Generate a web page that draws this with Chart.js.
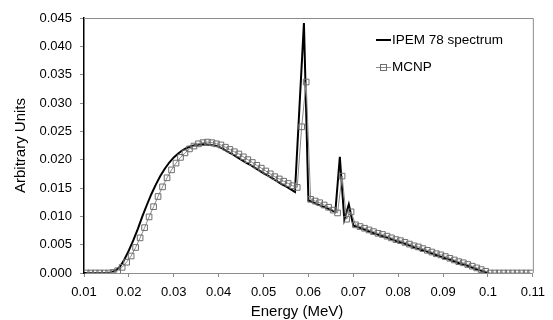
<!DOCTYPE html>
<html>
<head>
<meta charset="utf-8">
<script src="https://cdn.jsdelivr.net/npm/chart.js@4.4.0/dist/chart.umd.min.js"></script>
<style>
  html, body { margin: 0; padding: 0; background: #fff; }
  #wrap { width: 553px; height: 320px; position: relative; }
</style>
</head>
<body>
<div id="wrap"><canvas id="c" width="553" height="320"></canvas></div>
<script>
// ---- Data ----
const xTicks = [0.01, 0.02, 0.03, 0.04, 0.05, 0.06, 0.07, 0.08, 0.09, 0.10, 0.11];
const yTicks = [0.000, 0.005, 0.010, 0.015, 0.020, 0.025, 0.030, 0.035, 0.040, 0.045];

const ipemEnergy = [
  0.010, 0.011, 0.012, 0.013, 0.014, 0.015, 0.016, 0.017, 0.018, 0.019,
  0.020, 0.021, 0.022, 0.023, 0.024, 0.025, 0.026, 0.027, 0.028, 0.029,
  0.030, 0.031, 0.032, 0.033, 0.034, 0.035, 0.036, 0.037, 0.038, 0.039,
  0.040, 0.041, 0.042, 0.043, 0.044, 0.045, 0.046, 0.047, 0.048, 0.049,
  0.050, 0.051, 0.052, 0.053, 0.054, 0.055, 0.056, 0.057, 0.058, 0.059,
  0.060, 0.061, 0.062, 0.063, 0.064, 0.065, 0.066, 0.067, 0.068, 0.069,
  0.070, 0.071, 0.072, 0.073, 0.074, 0.075, 0.076, 0.077, 0.078, 0.079,
  0.080, 0.081, 0.082, 0.083, 0.084, 0.085, 0.086, 0.087, 0.088, 0.089,
  0.090, 0.091, 0.092, 0.093, 0.094, 0.095, 0.096, 0.097, 0.098, 0.099,
  0.100
];
const ipemValues = [
  0.0000, 0.0000, 0.0000, 0.0000, 0.0000, 0.0000, 0.0001, 0.0004, 0.0011, 0.0024,
  0.0040, 0.0058, 0.0078, 0.0100, 0.0120, 0.0139, 0.0156, 0.0171, 0.0184, 0.0195,
  0.0204, 0.0211, 0.0217, 0.0221, 0.0224, 0.0226, 0.0227, 0.0227, 0.0226, 0.0225,
  0.0223, 0.0219, 0.0214, 0.0210, 0.0205, 0.0200, 0.0195, 0.0191, 0.0186, 0.0181,
  0.0176, 0.0172, 0.0167, 0.0162, 0.0157, 0.0153, 0.0148, 0.0143, 0.0292, 0.0441,
  0.0128, 0.0125, 0.0121, 0.0118, 0.0115, 0.0111, 0.0108, 0.0205, 0.0094, 0.0121,
  0.0084, 0.0081, 0.0078, 0.0075, 0.0072, 0.0069, 0.0066, 0.0064, 0.0061, 0.0058,
  0.0055, 0.0053, 0.0050, 0.0047, 0.0044, 0.0041, 0.0039, 0.0036, 0.0033, 0.0030,
  0.0027, 0.0025, 0.0022, 0.0019, 0.0016, 0.0014, 0.0011, 0.0008, 0.0005, 0.0003,
  0.0000
];

const mcnpEnergy = [
  0.0105, 0.0115, 0.0125, 0.0135, 0.0145, 0.0155, 0.0165, 0.0175, 0.0185, 0.0195,
  0.0205, 0.0215, 0.0225, 0.0235, 0.0245, 0.0255, 0.0265, 0.0275, 0.0285, 0.0295,
  0.0305, 0.0315, 0.0325, 0.0335, 0.0345, 0.0355, 0.0365, 0.0375, 0.0385, 0.0395,
  0.0405, 0.0415, 0.0425, 0.0435, 0.0445, 0.0455, 0.0465, 0.0475, 0.0485, 0.0495,
  0.0505, 0.0515, 0.0525, 0.0535, 0.0545, 0.0555, 0.0565, 0.0575, 0.0585, 0.0595,
  0.0605, 0.0615, 0.0625, 0.0635, 0.0645, 0.0655, 0.0665, 0.0675, 0.0685, 0.0695,
  0.0705, 0.0715, 0.0725, 0.0735, 0.0745, 0.0755, 0.0765, 0.0775, 0.0785, 0.0795,
  0.0805, 0.0815, 0.0825, 0.0835, 0.0845, 0.0855, 0.0865, 0.0875, 0.0885, 0.0895,
  0.0905, 0.0915, 0.0925, 0.0935, 0.0945, 0.0955, 0.0965, 0.0975, 0.0985, 0.0995,
  0.1005, 0.1015, 0.1025, 0.1035, 0.1045, 0.1055, 0.1065, 0.1075, 0.1085, 0.1095
];
const mcnpValues = [
  0.0000, 0.0000, 0.0000, 0.0000, 0.0000, 0.0000, 0.0001, 0.0004, 0.0010, 0.0019,
  0.0030, 0.0045, 0.0062, 0.0080, 0.0099, 0.0117, 0.0135, 0.0152, 0.0168, 0.0182,
  0.0194, 0.0204, 0.0212, 0.0219, 0.0224, 0.0228, 0.0230, 0.0231, 0.0230, 0.0228,
  0.0226, 0.0222, 0.0218, 0.0214, 0.0210, 0.0205, 0.0200, 0.0195, 0.0190, 0.0185,
  0.0180, 0.0175, 0.0170, 0.0166, 0.0162, 0.0158, 0.0154, 0.0151, 0.0258, 0.0337,
  0.0130, 0.0127, 0.0124, 0.0120, 0.0116, 0.0111, 0.0106, 0.0171, 0.0095, 0.0108,
  0.0085, 0.0082, 0.0079, 0.0076, 0.0073, 0.0070, 0.0068, 0.0065, 0.0062, 0.0059,
  0.0057, 0.0054, 0.0051, 0.0048, 0.0046, 0.0043, 0.0040, 0.0037, 0.0034, 0.0032,
  0.0029, 0.0026, 0.0023, 0.0020, 0.0018, 0.0015, 0.0012, 0.0009, 0.0006, 0.0003,
  0.0000, 0.0000, 0.0000, 0.0000, 0.0000, 0.0000, 0.0000, 0.0000, 0.0000, 0.0000
];

const seriesNames = ['IPEM 78 spectrum', 'MCNP'];
const xTitle = 'Energy (MeV)';
const yTitle = 'Arbitrary Units';

// ---- Chart ----
const FONT = 'Liberation Sans, Arial, Helvetica, sans-serif';

const borderPlugin = {
  id: 'frameAndText',
  afterDraw(chart) {
    const {ctx, chartArea: a} = chart;
    ctx.save();
    // top & right plot border
    ctx.strokeStyle = '#8c8c8c';
    ctx.lineWidth = 1;
    ctx.beginPath();
    ctx.moveTo(a.left, a.top + 0.5);
    ctx.lineTo(a.right + 0.5, a.top + 0.5);
    ctx.lineTo(a.right + 0.5, a.bottom);
    ctx.stroke();

    // axis titles
    ctx.fillStyle = '#000';
    ctx.font = '15px ' + FONT;
    ctx.textAlign = 'center';
    ctx.textBaseline = 'middle';
    ctx.fillText(xTitle, 297, 312);
    ctx.translate(21, (a.top + a.bottom) / 2);
    ctx.rotate(-Math.PI / 2);
    ctx.fillText(yTitle, 0, 0);
    ctx.restore();

    // legend
    ctx.save();
    ctx.font = '13.5px ' + FONT;
    ctx.textAlign = 'left';
    ctx.textBaseline = 'middle';
    ctx.fillStyle = '#000';
    const ds = chart.data.datasets;
    // IPEM
    ctx.strokeStyle = ds[0].borderColor;
    ctx.lineWidth = 2;
    ctx.beginPath();
    ctx.moveTo(376, 40); ctx.lineTo(391, 40); ctx.stroke();
    ctx.fillText(ds[0].label, 392, 40);
    // MCNP
    ctx.strokeStyle = ds[1].borderColor;
    ctx.lineWidth = 1;
    ctx.beginPath();
    ctx.moveTo(376, 67.5); ctx.lineTo(391, 67.5); ctx.stroke();
    ctx.strokeStyle = ds[1].pointBorderColor;
    ctx.strokeRect(380.5, 64.5, 6, 6);
    ctx.fillText(ds[1].label, 392, 67);
    ctx.restore();
  }
};

new Chart(document.getElementById('c'), {
  type: 'scatter',
  data: {
    datasets: [
      {
        label: seriesNames[0],
        data: ipemEnergy.map((e, i) => ({x: e, y: ipemValues[i]})),
        showLine: true,
        borderColor: '#000000',
        borderWidth: 2,
        pointRadius: 0,
        tension: 0,
        order: 1
      },
      {
        label: seriesNames[1],
        data: mcnpEnergy.map((e, i) => ({x: e, y: mcnpValues[i]})),
        showLine: true,
        borderColor: '#8a8a8a',
        borderWidth: 1,
        pointStyle: 'rect',
        pointRadius: 4,
        pointBorderWidth: 1,
        pointBorderColor: '#6e6e6e',
        pointBackgroundColor: 'rgba(0,0,0,0)',
        tension: 0,
        order: 0
      }
    ]
  },
  options: {
    responsive: false,
    animation: false,
    devicePixelRatio: 1,
    layout: { padding: { top: 18, right: 14, left: 0, bottom: 0 } },
    plugins: {
      legend: { display: false },
      tooltip: { enabled: false }
    },
    scales: {
      x: {
        type: 'linear',
        min: 0.01,
        max: 0.11,
        afterBuildTicks: s => { s.ticks = xTicks.map(v => ({value: v})); },
        afterFit: s => { s.height = 47; },
        grid: { drawOnChartArea: false, drawTicks: true, tickLength: 4, color: '#8c8c8c' },
        border: { display: true, color: '#8c8c8c', width: 1 },
        ticks: {
          color: '#000',
          font: { family: FONT, size: 13 },
          padding: 8,
          maxRotation: 0,
          autoSkip: false,
          callback: v => String(Number(Number(v).toFixed(2)))
        }
      },
      y: {
        type: 'linear',
        min: 0,
        max: 0.045,
        afterBuildTicks: s => { s.ticks = yTicks.map(v => ({value: v})); },
        afterFit: s => { s.width = 84; },
        grid: { drawOnChartArea: false, drawTicks: true, tickLength: 4, color: '#8c8c8c' },
        border: { display: true, color: '#000', width: 1.5 },
        ticks: {
          color: '#000',
          font: { family: FONT, size: 13 },
          padding: 8,
          autoSkip: false,
          callback: v => Number(v).toFixed(3)
        }
      }
    }
  },
  plugins: [borderPlugin]
});
</script>
</body>
</html>
